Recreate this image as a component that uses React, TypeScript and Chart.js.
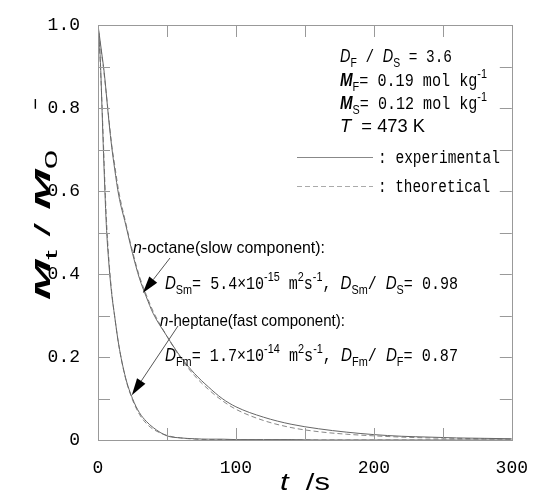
import React, { useEffect, useRef } from "react";
import { Chart, registerables } from "chart.js";

Chart.register(...registerables);

// ---- data ----
const timeS = [0, 1, 2, 3, 4, 5, 6, 8, 10, 12, 15, 20, 25, 30, 35, 40, 50, 60, 70, 80, 90, 100, 120, 140, 160, 180, 200, 220, 240, 260, 280, 300];

const slowExperimental = [1.0, 0.975, 0.95, 0.925, 0.9, 0.87, 0.835, 0.765, 0.705, 0.655, 0.59, 0.52, 0.45, 0.39, 0.345, 0.305, 0.25, 0.2, 0.16, 0.128, 0.1, 0.08, 0.055, 0.038, 0.027, 0.019, 0.013, 0.009, 0.007, 0.005, 0.004, 0.003];
const slowTheoretical = [1.0, 0.97, 0.945, 0.92, 0.895, 0.865, 0.835, 0.77, 0.71, 0.665, 0.6, 0.525, 0.455, 0.395, 0.35, 0.31, 0.25, 0.197, 0.155, 0.122, 0.095, 0.074, 0.047, 0.03, 0.02, 0.014, 0.01, 0.007, 0.005, 0.004, 0.003, 0.002];
const fastExperimental = [1.0, 0.96, 0.89, 0.79, 0.69, 0.6, 0.52, 0.42, 0.35, 0.3, 0.23, 0.15, 0.1, 0.066, 0.045, 0.03, 0.01, 0.005, 0.003, 0.002, 0.002, 0.001, 0.001, 0.001, 0, 0, 0, 0, 0, 0, 0, 0];
const fastTheoretical = [1.0, 0.95, 0.88, 0.8, 0.71, 0.62, 0.54, 0.43, 0.355, 0.3, 0.23, 0.148, 0.097, 0.062, 0.04, 0.026, 0.011, 0.005, 0.002, 0.001, 0.001, 0, 0, 0, 0, 0, 0, 0, 0, 0, 0, 0];

const xLabelValues = [0, 100, 200, 300];
const yLabelValues = [0, 0.2, 0.4, 0.6, 0.8, 1.0];
const xMinorTicks = [50, 100, 150, 200, 250];
const yMinorTicks = [0.1, 0.2, 0.3, 0.4, 0.5, 0.6, 0.7, 0.8, 0.9];

// arrow targets (data coords) for the annotations
const octaneArrowTip = { t: 32.5, v: 0.354 };
const heptaneArrowTip = { t: 24.5, v: 0.108 };

const MONO = '"Liberation Mono", "DejaVu Sans Mono", monospace';
const SANS = '"Liberation Sans", Arial, sans-serif';

type Run = { t: string; it?: boolean; b?: boolean; sub?: boolean; sup?: boolean; sans?: boolean };

function fontFor(r: Run, size: number) {
  const s = r.sub || r.sup ? size * 0.72 : size;
  const fam = r.it || r.sans ? SANS : MONO;
  return `${r.it ? "italic " : ""}${r.b ? "bold " : ""}${s}px ${fam}`;
}

function drawRuns(ctx: CanvasRenderingContext2D, x: number, y: number, runs: Run[], size: number, fitWidth?: number) {
  const widths = runs.map((r) => {
    ctx.font = fontFor(r, size);
    return ctx.measureText(r.t).width;
  });
  const total = widths.reduce((a, b) => a + b, 0);
  const sx = fitWidth ? fitWidth / total : 1;
  ctx.save();
  ctx.translate(x, y);
  ctx.scale(sx, 1);
  ctx.textAlign = "left";
  ctx.textBaseline = "alphabetic";
  let cx = 0;
  runs.forEach((r, i) => {
    ctx.font = fontFor(r, size);
    const dy = r.sub ? size * 0.3 : r.sup ? -size * 0.42 : 0;
    ctx.fillText(r.t, cx, dy);
    cx += widths[i];
  });
  ctx.restore();
}

function arrow(ctx: CanvasRenderingContext2D, x1: number, y1: number, x2: number, y2: number) {
  const ang = Math.atan2(y2 - y1, x2 - x1);
  const len = 17;
  const half = 5;
  const bx = x2 - len * Math.cos(ang);
  const by = y2 - len * Math.sin(ang);
  ctx.save();
  ctx.strokeStyle = "#555";
  ctx.lineWidth = 1;
  ctx.beginPath();
  ctx.moveTo(x1, y1);
  ctx.lineTo(bx, by);
  ctx.stroke();
  ctx.fillStyle = "#000";
  ctx.beginPath();
  ctx.moveTo(x2, y2);
  ctx.lineTo(bx + half * Math.sin(ang), by - half * Math.cos(ang));
  ctx.lineTo(bx - half * Math.sin(ang), by + half * Math.cos(ang));
  ctx.closePath();
  ctx.fill();
  ctx.restore();
}

const overlayPlugin = {
  id: "overlay",
  afterDraw(chart: any) {
    const ctx: CanvasRenderingContext2D = chart.ctx;
    const { left, right, top, bottom } = chart.chartArea;
    const xs = chart.scales.x;
    const ys = chart.scales.y;
    ctx.save();
    // frame
    ctx.strokeStyle = "#999";
    ctx.lineWidth = 1;
    ctx.strokeRect(Math.round(left) + 0.5, Math.round(top) + 0.5, Math.round(right - left), Math.round(bottom - top));
    // inward ticks
    ctx.beginPath();
    yMinorTicks.forEach((v) => {
      const py = Math.round(ys.getPixelForValue(v)) + 0.5;
      ctx.moveTo(left, py);
      ctx.lineTo(left + 12, py);
      ctx.moveTo(right, py);
      ctx.lineTo(right - 12, py);
    });
    xMinorTicks.forEach((t) => {
      const px = Math.round(xs.getPixelForValue(t)) + 0.5;
      ctx.moveTo(px, bottom);
      ctx.lineTo(px, bottom - 12);
      ctx.moveTo(px, top);
      ctx.lineTo(px, top + 12);
    });
    ctx.stroke();

    ctx.fillStyle = "#000";
    // top-right parameter block
    drawRuns(ctx, 340, 62, [{ t: "D", it: true }, { t: "F", sub: true, sans: true }, { t: " / " }, { t: "D", it: true }, { t: "S", sub: true, sans: true }, { t: " = 3.6" }], 18, 112);
    drawRuns(ctx, 340, 86, [{ t: "M", it: true, b: true }, { t: "F", sub: true, sans: true }, { t: "= 0.19 mol kg" }, { t: "-1", sup: true, sans: true }], 18, 147);
    drawRuns(ctx, 340, 109, [{ t: "M", it: true, b: true }, { t: "S", sub: true, sans: true }, { t: "= 0.12 mol kg" }, { t: "-1", sup: true, sans: true }], 18, 147);
    drawRuns(ctx, 340, 132, [{ t: "T", it: true }, { t: "  = 473 K", sans: true }], 18, 85);

    // legend
    ctx.strokeStyle = "#888";
    ctx.beginPath();
    ctx.moveTo(297, 157.5);
    ctx.lineTo(373, 157.5);
    ctx.stroke();
    ctx.setLineDash([5, 3]);
    ctx.strokeStyle = "#aaa";
    ctx.beginPath();
    ctx.moveTo(297, 186.5);
    ctx.lineTo(373, 186.5);
    ctx.stroke();
    ctx.setLineDash([]);
    drawRuns(ctx, 378, 163, [{ t: ": experimental" }], 18, 122);
    drawRuns(ctx, 378, 192, [{ t: ": theoretical" }], 18, 112);

    // annotations
    drawRuns(ctx, 133, 253, [{ t: "n", it: true }, { t: "-octane(slow component):", sans: true }], 17, 192);
    drawRuns(ctx, 165, 289, [
      { t: "D", it: true }, { t: "Sm", sub: true, sans: true }, { t: "= 5.4", }, { t: "×", sans: true }, { t: "10" }, { t: "-15", sup: true, sans: true },
      { t: " m" }, { t: "2", sup: true, sans: true }, { t: "s" }, { t: "-1", sup: true, sans: true }, { t: ", " },
      { t: "D", it: true }, { t: "Sm", sub: true, sans: true }, { t: "/ " }, { t: "D", it: true }, { t: "S", sub: true, sans: true }, { t: "= 0.98" },
    ], 18, 293);
    drawRuns(ctx, 160, 326, [{ t: "n", it: true }, { t: "-heptane(fast component):", sans: true }], 17, 185);
    drawRuns(ctx, 165, 361, [
      { t: "D", it: true }, { t: "Fm", sub: true, sans: true }, { t: "= 1.7", }, { t: "×", sans: true }, { t: "10" }, { t: "-14", sup: true, sans: true },
      { t: " m" }, { t: "2", sup: true, sans: true }, { t: "s" }, { t: "-1", sup: true, sans: true }, { t: ", " },
      { t: "D", it: true }, { t: "Fm", sub: true, sans: true }, { t: "/ " }, { t: "D", it: true }, { t: "F", sub: true, sans: true }, { t: "= 0.87" },
    ], 18, 293);

    arrow(ctx, 170, 258, xs.getPixelForValue(octaneArrowTip.t), ys.getPixelForValue(octaneArrowTip.v));
    arrow(ctx, 178, 326, xs.getPixelForValue(heptaneArrowTip.t), ys.getPixelForValue(heptaneArrowTip.v));

    // axis titles
    ctx.fillStyle = "#000";
    drawRuns(ctx, 280, 490, [{ t: "t", it: true }, { t: "  /s", sans: true }], 24, 50);
    ctx.save();
    ctx.translate(50, 300);
    ctx.rotate(-Math.PI / 2);
    drawRuns(ctx, 0, 0, [{ t: "M", it: true, b: true }, { t: "t", sub: true, sans: true }, { t: " / ", sans: true }, { t: "M", it: true, b: true }, { t: "0", sub: true, sans: true }], 22, 150);
    ctx.font = `20px ${SANS}`;
    ctx.textAlign = "center";
    ctx.textBaseline = "middle";
    ctx.fillText("−", 196, -14);
    ctx.restore();

    ctx.restore();
  },
};

export default function App() {
  const ref = useRef<HTMLCanvasElement | null>(null);
  useEffect(() => {
    if (!ref.current) return;
    const mk = (vals: number[]) => timeS.map((t, i) => ({ x: t, y: vals[i] }));
    const chart = new Chart(ref.current, {
      type: "line",
      data: {
        datasets: [
          { label: "slow experimental", data: mk(slowExperimental), borderColor: "#666", borderWidth: 1, pointRadius: 0, cubicInterpolationMode: "monotone", fill: false },
          { label: "slow theoretical", data: mk(slowTheoretical), borderColor: "#888", borderWidth: 1, borderDash: [5, 3], pointRadius: 0, cubicInterpolationMode: "monotone", fill: false },
          { label: "fast experimental", data: mk(fastExperimental), borderColor: "#666", borderWidth: 1, pointRadius: 0, cubicInterpolationMode: "monotone", fill: false },
          { label: "fast theoretical", data: mk(fastTheoretical), borderColor: "#888", borderWidth: 1, borderDash: [5, 3], pointRadius: 0, cubicInterpolationMode: "monotone", fill: false },
        ],
      },
      options: {
        responsive: false,
        animation: false,
        devicePixelRatio: 1,
        layout: { padding: { top: 25, right: 22, left: 0, bottom: 0 } },
        plugins: { legend: { display: false }, tooltip: { enabled: false } },
        scales: {
          x: {
            type: "linear",
            min: 0,
            max: 300,
            grid: { display: false },
            border: { display: false },
            afterFit: (s: any) => { s.height = 57; },
            afterBuildTicks: (s: any) => { s.ticks = xLabelValues.map((v) => ({ value: v })); },
            ticks: {
              autoSkip: false,
              maxRotation: 0,
              padding: 9,
              color: "#000",
              font: { family: MONO, size: 18 },
              callback: (v: any) => String(v),
            },
          },
          y: {
            type: "linear",
            min: 0,
            max: 1,
            grid: { display: false },
            border: { display: false },
            afterFit: (s: any) => { s.width = 98; },
            afterBuildTicks: (s: any) => { s.ticks = yLabelValues.map((v) => ({ value: v })); },
            ticks: {
              autoSkip: false,
              padding: 10,
              color: "#000",
              font: { family: MONO, size: 18 },
              callback: (v: any) => (v === 0 ? "0" : Number(v).toFixed(1)),
            },
          },
        },
      },
      plugins: [overlayPlugin],
    } as any);
    return () => chart.destroy();
  }, []);
  return (
    <div style={{ position: "absolute", left: 0, top: 0, width: 537, height: 497, background: "#fff" }}>
      <canvas ref={ref} width={537} height={497} style={{ width: 537, height: 497, display: "block" }} />
    </div>
  );
}
